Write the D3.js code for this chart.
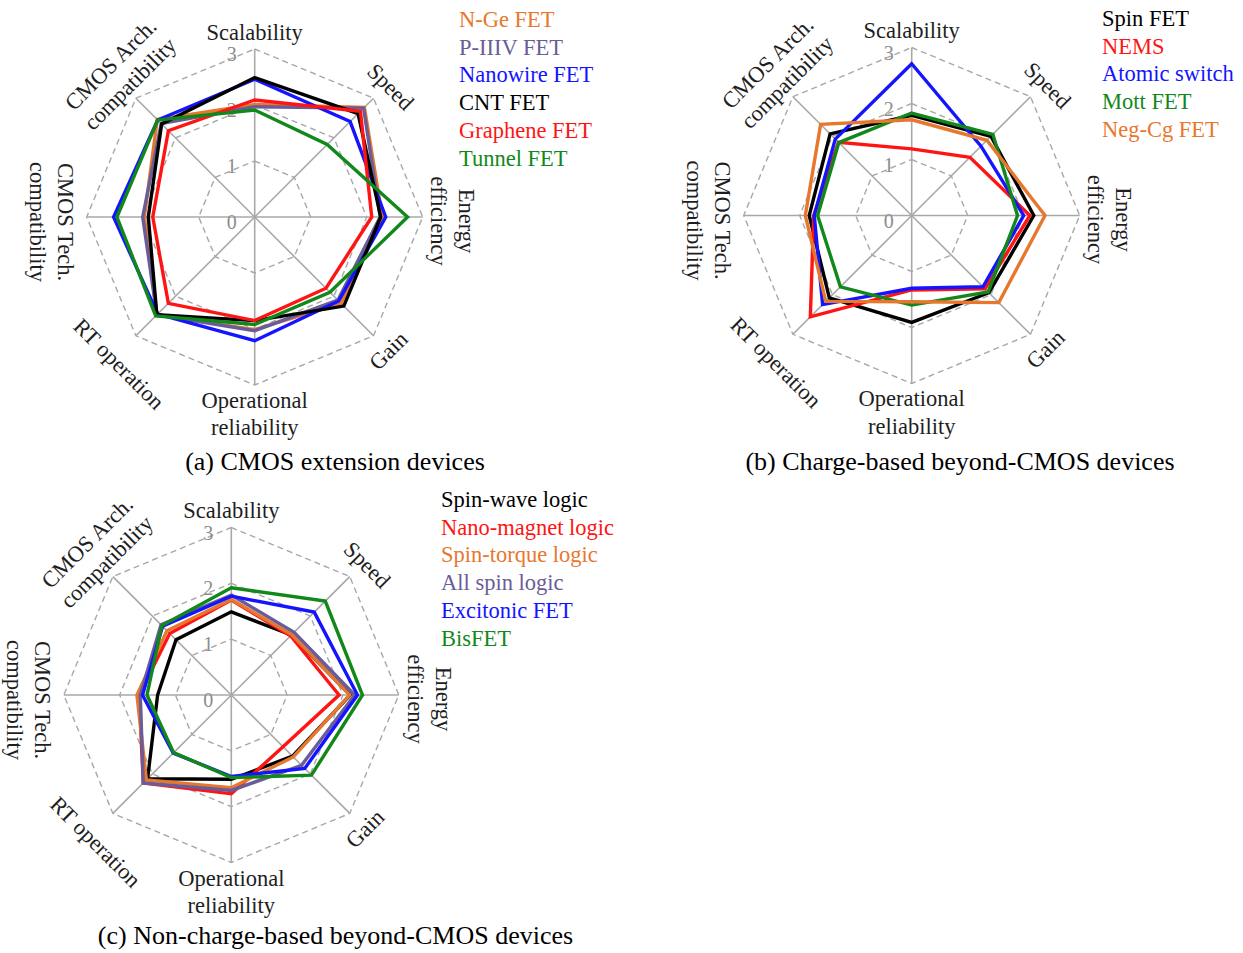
<!DOCTYPE html>
<html><head><meta charset="utf-8">
<script src="https://cdn.jsdelivr.net/npm/d3@7"></script>
<style>
body{margin:0;background:#fff}
text{font-family:"Liberation Serif","Times New Roman",serif}
</style>
</head><body>
<svg id="chart" width="1243" height="953"></svg>
<script>
// ---------- DATA ----------
const axes = ["Scalability","Speed","Energy efficiency","Gain","Operational reliability","RT operation","CMOS Tech. compatibility","CMOS Arch. compatibility"];
const axisLabelLines = [["Scalability"],["Speed"],["Energy","efficiency"],["Gain"],["Operational","reliability"],["RT operation"],["CMOS Tech.","compatibility"],["CMOS Arch.","compatibility"]];
const tickValues = [0,1,2,3];

const namesA = ["N-Ge FET","P-IIIV FET","Nanowire FET","CNT FET","Graphene FET","Tunnel FET"];
const valuesA = [
  [2.01, 2.77, 2.28, 2.18, 2.01, 2.47, 1.97, 2.46],
  [1.97, 2.75, 2.24, 2.10, 2.03, 2.47, 2.00, 2.36],
  [2.46, 2.41, 2.34, 2.12, 2.21, 2.45, 2.52, 2.45],
  [2.49, 2.61, 2.25, 2.25, 1.85, 2.47, 1.90, 2.35],
  [2.09, 2.67, 2.09, 1.80, 1.85, 2.18, 1.82, 2.18],
  [1.91, 1.83, 2.73, 1.90, 1.92, 2.50, 2.46, 2.45]
];
const captionA = "(a) CMOS extension devices";

const namesB = ["Spin FET","NEMS","Atomic switch","Mott FET","Neg-Cg FET"];
const valuesB = [
  [1.79, 2.00, 2.18, 1.95, 1.91, 2.08, 1.83, 2.06],
  [1.19, 1.47, 2.11, 1.85, 1.33, 2.56, 1.75, 1.85],
  [2.71, 1.75, 2.00, 1.80, 1.30, 2.25, 1.74, 1.93],
  [1.83, 2.05, 1.89, 1.93, 1.60, 1.80, 1.68, 1.84],
  [1.71, 1.90, 2.38, 2.20, 1.54, 2.17, 1.90, 2.30]
];
const captionB = "(b) Charge-based beyond-CMOS devices";

const namesC = ["Spin-wave logic","Nano-magnet logic","Spin-torque logic","All spin logic","Excitonic FET","BisFET"];
const valuesC = [
  [1.49, 1.52, 2.13, 1.55, 1.51, 2.12, 1.32, 1.40],
  [1.70, 1.50, 1.93, 1.31, 1.77, 2.23, 1.65, 1.56],
  [1.71, 1.53, 2.12, 1.57, 1.66, 2.15, 1.69, 1.63],
  [1.79, 1.59, 2.21, 1.78, 1.71, 2.23, 1.63, 1.78],
  [1.77, 2.10, 2.26, 1.86, 1.46, 1.47, 1.59, 1.74],
  [1.92, 2.38, 2.35, 2.03, 1.48, 1.46, 1.51, 1.76]
];
const captionC = "(c) Non-charge-based beyond-CMOS devices";

// ---------- STYLE / LAYOUT ----------
const C_ORANGE = "#e8772e", C_PURPLE = "#6a5c98", C_BLUE = "#1414ff", C_BLACK = "#000000", C_RED = "#ff1414", C_GREEN = "#12881a";
const colorsA = [C_ORANGE, C_PURPLE, C_BLUE, C_BLACK, C_RED, C_GREEN];
const colorsB = [C_BLACK, C_RED, C_BLUE, C_GREEN, C_ORANGE];
const colorsC = [C_BLACK, C_RED, C_ORANGE, C_PURPLE, C_BLUE, C_GREEN];

const labelRot = [0, 45, 90, -45, 0, 45, 90, -45];
const labelDist = [185, 188, 198, 189, 197, 200, 203, 196];
const labelShift = [0, 4, 4, 0, 0, 8, 5, 6];

const panels = [
  {cx:254.7, cy:217, R:168, names:namesA, values:valuesA, colors:colorsA, lx:459, ly:27, cap:captionA, capx:335, capy:470},
  {cx:911.7, cy:215.5, R:168, names:namesB, values:valuesB, colors:colorsB, lx:1102, ly:26, cap:captionB, capx:960, capy:470},
  {cx:231.3, cy:695, R:167.5, names:namesC, values:valuesC, colors:colorsC, lx:441, ly:507, cap:captionC, capx:335.5, capy:944}
];

const svg = d3.select("#chart");
const angle = d3.scalePoint().domain(axes).range([0, 2*Math.PI*7/8]);

panels.forEach(p => {
  const r = d3.scaleLinear().domain([0,3]).range([0,p.R]);
  const g = svg.append("g").attr("transform", `translate(${p.cx},${p.cy})`);

  // spokes
  g.selectAll("line.spoke").data(axes).join("line")
    .attr("class","spoke")
    .attr("x1",0).attr("y1",0)
    .attr("x2", a => d3.pointRadial(angle(a), r(3))[0])
    .attr("y2", a => d3.pointRadial(angle(a), r(3))[1])
    .attr("stroke","#a8a8a8").attr("stroke-width",1.6);

  // rings
  const ring = d3.lineRadial().angle(a => angle(a)).curve(d3.curveLinearClosed);
  g.selectAll("path.ring").data(tickValues.filter(v => v > 0)).join("path")
    .attr("class","ring")
    .attr("d", v => ring.radius(r(v))(axes))
    .attr("fill","none").attr("stroke","#a8a8a8").attr("stroke-width",1.4)
    .attr("stroke-dasharray","6,4");

  // tick labels
  g.selectAll("text.tick").data(tickValues).join("text")
    .attr("class","tick")
    .attr("x", -23).attr("y", v => -r(v) + 5)
    .attr("text-anchor","middle").attr("dominant-baseline","central")
    .attr("font-size",20).attr("fill","#8c8c8c")
    .text(v => v);

  // series
  const line = d3.lineRadial()
    .angle((d,i) => angle(axes[i]))
    .radius(d => r(d))
    .curve(d3.curveLinearClosed);
  g.selectAll("path.series").data(p.values).join("path")
    .attr("class","series")
    .attr("d", d => line(d))
    .attr("fill","none")
    .attr("stroke", (d,i) => p.colors[i])
    .attr("stroke-width",3.4)
    .attr("stroke-linejoin","miter");

  // axis labels
  axes.forEach((a,i) => {
    const [x,y] = d3.pointRadial(angle(a), labelDist[i]);
    const t = g.append("text")
      .attr("transform", `translate(${x},${y}) rotate(${labelRot[i]})`)
      .attr("text-anchor","middle").attr("font-size",22.5).attr("fill","#1e1e1e");
    const lines = axisLabelLines[i];
    lines.forEach((s,k) => {
      t.append("tspan").attr("x", labelShift[i])
        .attr("y", (k - (lines.length-1)/2) * 27.5 + 7.5)
        .text(s);
    });
  });

  // legend
  svg.append("g").selectAll("text").data(p.names).join("text")
    .attr("x", p.lx).attr("y", (d,i) => p.ly + i*27.7)
    .attr("font-size",22.5).attr("fill",(d,i) => p.colors[i])
    .text(d => d);

  // caption
  svg.append("text").attr("x",p.capx).attr("y",p.capy)
    .attr("text-anchor","middle").attr("font-size",26).attr("fill","#000")
    .text(p.cap);
});
</script>
</body></html>
